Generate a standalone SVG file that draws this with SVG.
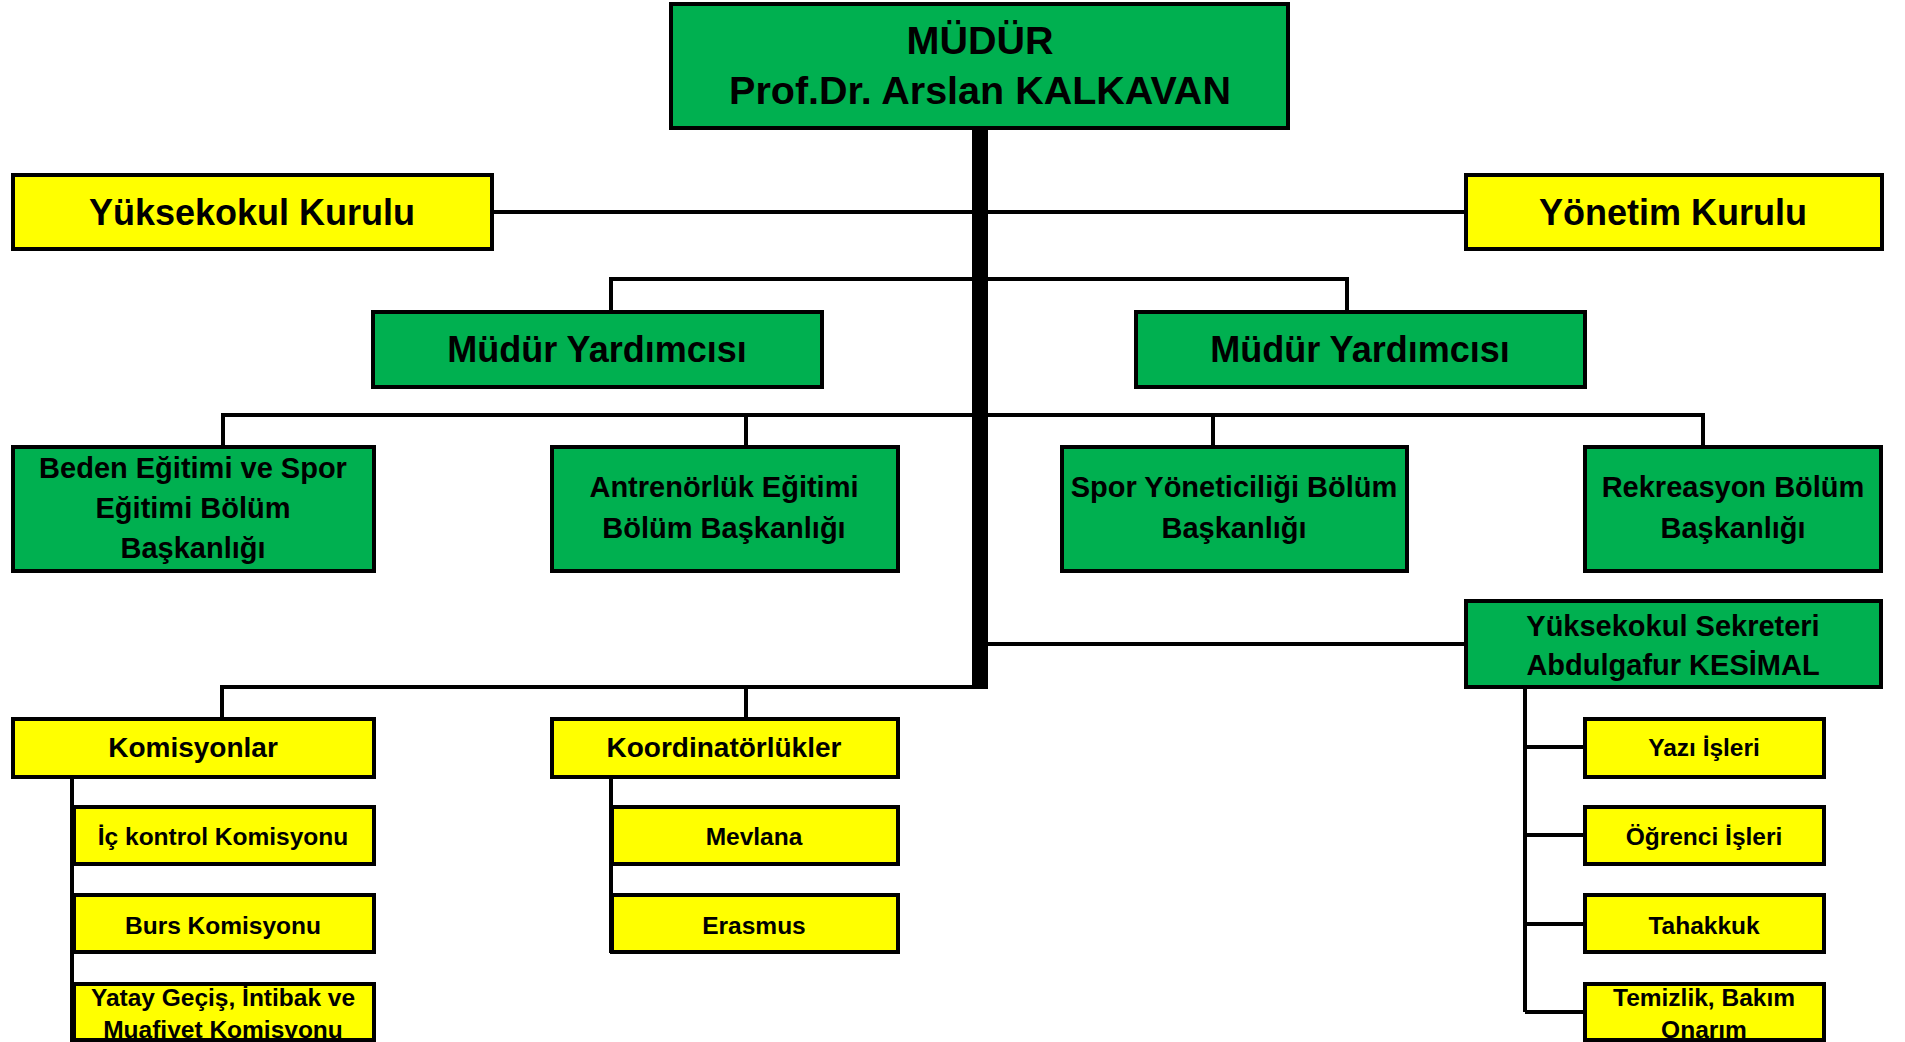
<svg xmlns="http://www.w3.org/2000/svg" width="1905" height="1042" viewBox="0 0 1905 1042">
<style>
.g{fill:#00B050;stroke:#000;stroke-width:4}
.y{fill:#FFFF00;stroke:#000;stroke-width:4}
.c{fill:none;stroke:#000;stroke-width:4}
text{font-family:"Liberation Sans",Arial,sans-serif;font-weight:bold;fill:#000;text-anchor:middle}
.f39{font-size:39.5px}.f36{font-size:36px}.f29{font-size:29px}.f28{font-size:28px}.f24{font-size:24.5px}
</style>
<rect width="1905" height="1042" fill="#fff"/>
<g id="connectors">
<rect x="972" y="128" width="16" height="561" fill="#000"/>
<path class="c" d="M493 212H1464"/>
<path class="c" d="M611 312V279H1347V312"/>
<path class="c" d="M223 447V415H1703V447M746 415V447M1213 415V447"/>
<path class="c" d="M988 644H1465"/>
<path class="c" d="M222 719V687H980M746 687V719"/>
<path class="c" d="M72 778V1042"/>
<path class="c" d="M611 778V953"/>
<path class="c" d="M1525 688V1012M1525 747H1585M1525 835H1585M1525 924H1585M1525 1012H1585"/>
</g>
<g id="mudur"><rect class="g" x="671" y="4" width="617" height="124"/><text class="f39" x="980" y="54">MÜDÜR</text><text class="f39" x="980" y="104">Prof.Dr. Arslan KALKAVAN</text></g>
<g id="yuksekokul-kurulu"><rect class="y" x="13" y="175" width="479" height="74"/><text class="f36" x="252" y="225">Yüksekokul Kurulu</text></g>
<g id="yonetim-kurulu"><rect class="y" x="1466" y="175" width="416" height="74"/><text class="f36" x="1673" y="225">Yönetim Kurulu</text></g>
<g id="mudur-yard-1"><rect class="g" x="373" y="312" width="449" height="75"/><text class="f36" x="597" y="362">Müdür Yardımcısı</text></g>
<g id="mudur-yard-2"><rect class="g" x="1136" y="312" width="449" height="75"/><text class="f36" x="1360" y="362">Müdür Yardımcısı</text></g>
<g id="beden"><rect class="g" x="13" y="447" width="361" height="124"/><text class="f29" x="193" y="478">Beden Eğitimi ve Spor</text><text class="f29" x="193" y="518">Eğitimi Bölüm</text><text class="f29" x="193" y="558">Başkanlığı</text></g>
<g id="antrenorluk"><rect class="g" x="552" y="447" width="346" height="124"/><text class="f29" x="724" y="497">Antrenörlük Eğitimi</text><text class="f29" x="724" y="538">Bölüm Başkanlığı</text></g>
<g id="spor-yoneticiligi"><rect class="g" x="1062" y="447" width="345" height="124"/><text class="f29" x="1234" y="497">Spor Yöneticiliği Bölüm</text><text class="f29" x="1234" y="538">Başkanlığı</text></g>
<g id="rekreasyon"><rect class="g" x="1585" y="447" width="296" height="124"/><text class="f29" x="1733" y="497">Rekreasyon Bölüm</text><text class="f29" x="1733" y="538">Başkanlığı</text></g>
<g id="sekreter"><rect class="g" x="1466" y="601" width="415" height="86"/><text class="f29" x="1673" y="636">Yüksekokul Sekreteri</text><text class="f29" x="1673" y="675">Abdulgafur KESİMAL</text></g>
<g id="komisyonlar"><rect class="y" x="13" y="719" width="361" height="58"/><text class="f28" x="193" y="757">Komisyonlar</text></g>
<g id="koordinatorlukler"><rect class="y" x="552" y="719" width="346" height="58"/><text class="f28" x="724" y="757">Koordinatörlükler</text></g>
<g id="ic-kontrol"><rect class="y" x="74" y="807" width="300" height="57"/><text class="f24" x="223" y="845">İç kontrol Komisyonu</text></g>
<g id="burs"><rect class="y" x="74" y="895" width="300" height="57"/><text class="f24" x="223" y="934">Burs Komisyonu</text></g>
<g id="yatay"><rect class="y" x="74" y="984" width="300" height="56"/><text class="f24" x="223" y="1006">Yatay Geçiş, İntibak ve</text><text class="f24" x="223" y="1038">Muafiyet Komisyonu</text></g>
<g id="mevlana"><rect class="y" x="612" y="807" width="286" height="57"/><text class="f24" x="754" y="845">Mevlana</text></g>
<g id="erasmus"><rect class="y" x="612" y="895" width="286" height="57"/><text class="f24" x="754" y="934">Erasmus</text></g>
<g id="yazi-isleri"><rect class="y" x="1585" y="719" width="239" height="58"/><text class="f24" x="1704" y="756">Yazı İşleri</text></g>
<g id="ogrenci-isleri"><rect class="y" x="1585" y="807" width="239" height="57"/><text class="f24" x="1704" y="845">Öğrenci İşleri</text></g>
<g id="tahakkuk"><rect class="y" x="1585" y="895" width="239" height="57"/><text class="f24" x="1704" y="934">Tahakkuk</text></g>
<g id="temizlik"><rect class="y" x="1585" y="984" width="239" height="56"/><text class="f24" x="1704" y="1006">Temizlik, Bakım</text><text class="f24" x="1704" y="1038">Onarım</text></g>
</svg>
